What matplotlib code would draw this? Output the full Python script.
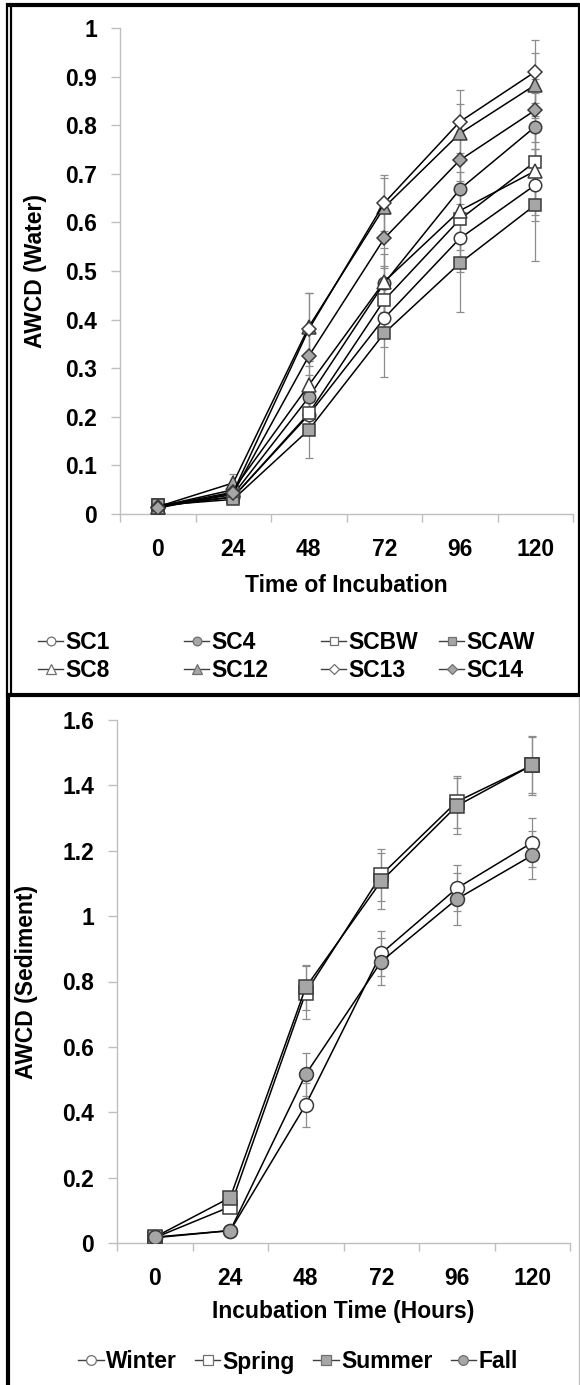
import matplotlib
matplotlib.use('Agg')
from matplotlib import pyplot as plt
from matplotlib.lines import Line2D
from matplotlib.ticker import FixedLocator, FormatStrFormatter

plt.rcParams['font.family'] = ['Liberation Sans', 'DejaVu Sans']
plt.rcParams['font.weight'] = 'bold'

hours = ['0', '24', '48', '72', '96', '120']

# top panel: AWCD in water, per site
water_names = ['SC1', 'SC4', 'SCBW', 'SCAW', 'SC8', 'SC12', 'SC13', 'SC14']
sc1 = [0.015, 0.035, 0.204, 0.403, 0.567, 0.677]
sc4 = [0.015, 0.040, 0.240, 0.475, 0.668, 0.797]
scbw = [0.018, 0.035, 0.207, 0.440, 0.606, 0.725]
scaw = [0.018, 0.030, 0.173, 0.372, 0.516, 0.636]
sc8 = [0.015, 0.050, 0.265, 0.478, 0.624, 0.706]
sc12 = [0.015, 0.064, 0.385, 0.631, 0.783, 0.883]
sc13 = [0.015, 0.045, 0.380, 0.640, 0.807, 0.910]
sc14 = [0.012, 0.043, 0.325, 0.567, 0.728, 0.831]
water_vals = [sc1, sc4, scbw, scaw, sc8, sc12, sc13, sc14]

sc1_err = [0.003, 0.008, 0.040, 0.060, 0.070, 0.075]
sc4_err = [0.003, 0.010, 0.045, 0.060, 0.065, 0.070]
scbw_err = [0.003, 0.008, 0.040, 0.070, 0.080, 0.090]
scaw_err = [0.003, 0.008, 0.058, 0.090, 0.100, 0.115]
sc8_err = [0.003, 0.010, 0.050, 0.070, 0.080, 0.090]
sc12_err = [0.003, 0.018, 0.070, 0.060, 0.060, 0.065]
sc13_err = [0.003, 0.010, 0.075, 0.058, 0.065, 0.065]
sc14_err = [0.003, 0.010, 0.060, 0.060, 0.060, 0.065]
water_errs = [sc1_err, sc4_err, scbw_err, scaw_err, sc8_err, sc12_err, sc13_err, sc14_err]

# bottom panel: AWCD in sediment, per season
sed_names = ['Winter', 'Spring', 'Summer', 'Fall']
winter = [0.016, 0.038, 0.423, 0.886, 1.085, 1.225]
spring = [0.016, 0.111, 0.766, 1.126, 1.350, 1.462]
summer = [0.018, 0.139, 0.782, 1.107, 1.337, 1.462]
fall = [0.018, 0.038, 0.516, 0.861, 1.052, 1.186]
sed_vals = [winter, spring, summer, fall]

winter_err = [0.003, 0.005, 0.067, 0.070, 0.070, 0.075]
spring_err = [0.003, 0.010, 0.080, 0.080, 0.080, 0.090]
summer_err = [0.003, 0.010, 0.070, 0.086, 0.085, 0.085]
fall_err = [0.003, 0.005, 0.066, 0.072, 0.080, 0.073]
sed_errs = [winter_err, spring_err, summer_err, fall_err]

GRAY = '#a6a6a6'
EDGE = '#3a3a3a'
AXC = '#bfbfbf'
FS = 16.5

water_style = {
    'SC1': ('o', 'white', 9), 'SC4': ('o', GRAY, 9),
    'SCBW': ('s', 'white', 9), 'SCAW': ('s', GRAY, 9),
    'SC8': ('^', 'white', 10), 'SC12': ('^', GRAY, 10),
    'SC13': ('D', 'white', 7.5), 'SC14': ('D', GRAY, 7.5),
}
sed_style = {
    'Winter': ('o', 'white', 10), 'Spring': ('s', 'white', 10.5),
    'Summer': ('s', GRAY, 10.5), 'Fall': ('o', GRAY, 10),
}

fig = plt.figure(figsize=(5.8, 13.85), dpi=100)
W, H = 580, 1385


def px_axes(x0, y0, x1, y1):
    return fig.add_axes([x0 / W, 1 - y1 / H, (x1 - x0) / W, (y1 - y0) / H])


def style_axes(ax, ymax, ystep, ylabel, xlabel, ylab_x, xlab_y):
    x = range(len(hours))
    ax.set_xlim(-0.5, len(hours) - 0.5)
    ax.set_ylim(0, ymax)
    ax.xaxis.set_major_locator(FixedLocator(list(x)))
    ax.set_xticklabels(hours)
    ax.xaxis.set_minor_locator(FixedLocator([i - 0.5 for i in range(len(hours) + 1)]))
    ax.tick_params(axis='x', which='major', length=0, pad=17, labelsize=FS)
    ax.tick_params(axis='x', which='minor', length=6, width=1, color=AXC, direction='out')
    n = int(round(ymax / ystep))
    ax.yaxis.set_major_locator(FixedLocator([i * ystep for i in range(n + 1)]))
    ax.yaxis.set_major_formatter(FormatStrFormatter('%g'))
    ax.tick_params(axis='y', length=6.5, width=1, color=AXC, pad=10, labelsize=FS)
    for s in ['top', 'right']:
        ax.spines[s].set_visible(False)
    for s in ['left', 'bottom']:
        ax.spines[s].set_color(AXC)
        ax.spines[s].set_linewidth(1)
    ax.set_xlabel(xlabel, fontsize=FS, fontweight='bold')
    ax.set_ylabel(ylabel, fontsize=FS, fontweight='bold')
    ax.yaxis.set_label_coords(ylab_x, 0.5)
    ax.xaxis.set_label_coords(0.5, xlab_y)


def draw(ax, names, vals, errs, styles):
    x = list(range(len(hours)))
    for name, v, e in zip(names, vals, errs):
        ax.errorbar(x, v, yerr=e, fmt='none', ecolor='#8c8c8c', elinewidth=0.9,
                    capsize=3, capthick=0.9, zorder=2)
    for name, v in zip(names, vals):
        m, fc, ms = styles[name]
        ax.plot(x, v, color='black', lw=1.1, marker=m, ms=ms, mfc=fc,
                mec=EDGE, mew=1.1, zorder=3)


def handle(style):
    m, fc, ms = style
    return Line2D([], [], color='#404040', lw=1, marker=m, ms=ms * 0.7,
                  mfc=fc, mec='#707070', mew=0.9)


# top panel
ax1 = px_axes(120, 28, 573, 514)
draw(ax1, water_names, water_vals, water_errs, water_style)
style_axes(ax1, 1.0, 0.1, 'AWCD (Water)', 'Time of Incubation',
           (47 - 120) / 453, -(574 - 514) / 486)

# top legend: 4 fixed-width columns, 2 rows
col_x = [38, 184, 321, 439]
for c in range(4):
    names = [water_names[c], water_names[c + 4]]
    fig.legend([handle(water_style[n]) for n in names], names,
               loc='upper left', bbox_to_anchor=(col_x[c] / W, 1 - 631 / H),
               frameon=False, fontsize=FS, handlelength=1.1, handletextpad=0.1,
               labelspacing=0.2, borderaxespad=0, borderpad=0)

# bottom panel
ax2 = px_axes(117, 720, 570, 1243)
draw(ax2, sed_names, sed_vals, sed_errs, sed_style)
style_axes(ax2, 1.6, 0.2, 'AWCD (Sediment)', 'Incubation Time (Hours)',
           (38 - 117) / 453, -(1300 - 1243) / 523)
fig.legend([handle(sed_style[n]) for n in sed_names], sed_names,
           loc='center', bbox_to_anchor=(298 / W, 1 - 1362 / H), ncol=4,
           frameon=False, fontsize=FS, handlelength=1.1, handletextpad=0.1,
           columnspacing=0.8, borderaxespad=0, borderpad=0)

# panel frames
def fline(xs, ys, lw, color='black'):
    fig.add_artist(Line2D([x / W for x in xs], [1 - y / H for y in ys],
                          lw=lw, color=color, solid_capstyle='butt'))

fline([6, 580], [5, 5], 3)
fline([7, 7], [3, 697], 1.6)
fline([11, 11], [3, 697], 1.6)
fline([578.5, 578.5], [3, 697], 1.6)
fline([6, 580], [695, 695], 3)
fline([8, 8], [695, 1385], 3)
fline([578.5, 578.5], [697, 1385], 1, '#bfbfbf')

fig.savefig('out.png', dpi=100)
